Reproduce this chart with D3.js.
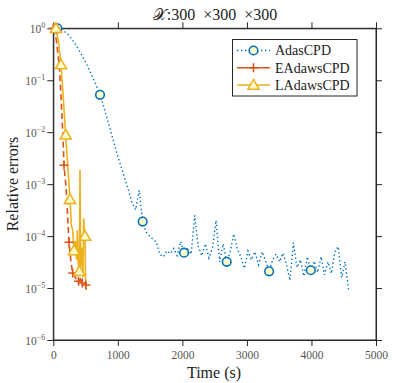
<!DOCTYPE html>
<html><head><meta charset="utf-8">
<script src="https://cdn.jsdelivr.net/npm/d3@7"></script>
<style>body{margin:0;background:#fff}svg{display:block}</style>
</head><body>
<svg id="c" width="415" height="383"></svg>
<script>
const title = "\u{1D4B3}:300 \u00A0\u00D7300 \u00A0\u00D7300";
const xLabel = "Time (s)";
const yLabel = "Relative errors";
const xTicks = [0,1000,2000,3000,4000,5000];
const yTickExp = [0,-1,-2,-3,-4,-5,-6];
const seriesNames = ["AdasCPD","EAdawsCPD","LAdawsCPD"];

const adasTime = [62,117,172,228,283,338,393,448,503,559,614,669,724,
 779,834,889,944,999,1054,1110,1165,1220,1275,1330,1385,
 1438,1492,1545,1599,1652,1706,1759,1812,1866,1919,1973,2026,
 2081,2136,2191,2246,2301,2357,2412,2467,2522,2577,2632,2687,
 2742,2796,2851,2906,2961,3016,3070,3125,3180,3235,3289,3344,
 3398,3452,3506,3559,3613,3667,3721,3775,3829,3883,3936,3990,
 4043,4096,4149,4202,4256,4309,4362,4415,4468,4521,4574];
const adasErr = [1.0,0.955,0.871,0.759,0.631,0.501,0.389,0.295,0.219,0.158,0.112,0.0776,0.0525,
 0.0316,0.0182,0.0105,0.00603,0.00347,0.00209,0.00126,7.6e-4,4.4e-4,3.2e-4,7.6e-4,1.9e-4,
 1.2e-4,1.0e-4,8.7e-5,7.6e-5,4.4e-5,4.0e-5,5.2e-5,4.6e-5,5.8e-5,4.2e-5,7.9e-5,4.8e-5,
 5.6e-5,4.5e-5,2.5e-4,6.3e-5,4.2e-5,7.1e-5,3.8e-5,6.0e-5,2.0e-4,3.2e-5,7.1e-5,3.2e-5,
 5.0e-5,1.1e-4,5.6e-5,4.0e-5,2.4e-5,5.2e-5,3.5e-5,5.0e-5,2.8e-5,5.0e-5,3.3e-5,2.1e-5,
 3.5e-5,4.5e-5,3.2e-5,4.7e-5,2.8e-5,1.4e-5,7.4e-5,2.5e-5,3.5e-5,1.7e-5,4.0e-5,2.2e-5,
 3.3e-5,2.0e-5,4.0e-5,1.8e-5,3.2e-5,1.9e-5,5.0e-5,6.3e-5,1.6e-5,3.2e-5,9.3e-6];
const adasMarks = [0,12,24,36,48,60,72];

const eTime = [0,45,95,125,150,166,200,243,270,300,340,390,420,450,480,505];
const eErr  = [1.0,0.62,0.18,0.036,8.3e-3,2.3e-3,8e-4,7.6e-5,3.5e-5,1.95e-5,1.6e-5,1.35e-5,1.5e-5,1.25e-5,1.3e-5,1.15e-5];
const eMarks = [0,5,7,9,11,13,15];

const lTime = [42,80,120,155,192,225,259,280,300,321,340,360,372,385,403,414,425,445,460,470,492,500,507];
const lErr  = [1.0,0.55,0.2,0.045,8.9e-3,2.2e-3,5.1e-4,1.6e-4,1.3e-4,5.3e-5,8e-5,3.5e-5,1.3e-4,3.0e-5,2.1e-5,1.9e-3,2.5e-5,6e-5,1.6e-5,2.2e-4,1.0e-4,1.5e-5,9.3e-6];
const lMarks = [0,2,4,6,9,14,20];

const colors = ["#0072BD","#D95319","#EDB120"];
const markFill = "#ffffcc";
const axCol = "#262626";
const font = "'Liberation Serif','Times New Roman',serif";

const svg = d3.select("#c");
const L=53.3, R=376, T=28.3, B=340;
const x = d3.scaleLinear().domain([0,5000]).range([L,R]);
const y = d3.scaleLog().domain([1e-6,1]).range([B,T]);

svg.append("rect").attr("x",L).attr("y",T).attr("width",R-L).attr("height",B-T)
  .attr("fill","#fff").attr("stroke",axCol).attr("stroke-width",1);

const tl = 6;
const gB = svg.append("g").attr("transform",`translate(0,${B})`)
  .call(d3.axisBottom(x).tickValues(xTicks).tickSize(tl).tickSizeOuter(0).tickFormat(d3.format("d")));
const gT = svg.append("g").attr("transform",`translate(0,${T})`)
  .call(d3.axisTop(x).tickValues(xTicks).tickSize(tl).tickSizeOuter(0).tickFormat(""));
const yVals = yTickExp.map(e=>Math.pow(10,e));
const gL = svg.append("g").attr("transform",`translate(${L},0)`)
  .call(d3.axisLeft(y).tickValues(yVals).tickSize(tl).tickSizeOuter(0).tickFormat(""));
const gR = svg.append("g").attr("transform",`translate(${R},0)`)
  .call(d3.axisRight(y).tickValues(yVals).tickSize(tl).tickSizeOuter(0).tickFormat(""));
[gB,gT,gL,gR].forEach(g=>{
  g.select(".domain").attr("stroke",axCol);
  g.selectAll(".tick line").attr("stroke",axCol);
});
gB.selectAll(".tick text").attr("font-family",font).attr("font-size",11.5).attr("fill","#555").attr("dy","0.85em");

const yl = svg.append("g");
yTickExp.forEach((e,i)=>{
  const t = yl.append("text").attr("x",L-8).attr("y",y(yVals[i])+4.5)
    .attr("font-family",font).attr("font-size",11.5).attr("fill","#555").attr("text-anchor","end");
  t.append("tspan").text("10");
  t.append("tspan").attr("dy",-4.5).attr("font-size",8).text(String(e).replace("-","\u2212"));
});

function series(tArr, vArr){ return tArr.map((t,i)=>[t,vArr[i]]); }
const line = d3.line().x(d=>x(d[0])).y(d=>y(d[1]));
const plot = svg.append("g");
const sA = series(adasTime, adasErr), sE = series(eTime,eErr), sL = series(lTime,lErr);

plot.append("path").datum(sA).attr("d",line).attr("fill","none").attr("stroke",colors[0])
  .attr("stroke-width",1.4).attr("stroke-dasharray","1.4,2.6");
plot.append("path").datum(sE).attr("d",line).attr("fill","none").attr("stroke",colors[1])
  .attr("stroke-width",1.6).attr("stroke-dasharray","6,3.5");
plot.append("path").datum(sL).attr("d",line).attr("fill","none").attr("stroke",colors[2])
  .attr("stroke-width",1.6);

const tri = d3.symbol().type(d3.symbolTriangle).size(55);
function circleMark(g,cx,cy){ g.append("circle").attr("cx",cx).attr("cy",cy).attr("r",4.3)
  .attr("fill",markFill).attr("stroke",colors[0]).attr("stroke-width",1.6); }
function plusMark(g,cx,cy){ g.append("path").attr("d",`M${cx-4.5},${cy}H${cx+4.5}M${cx},${cy-4.5}V${cy+4.5}`)
  .attr("stroke",colors[1]).attr("stroke-width",1.5).attr("fill","none"); }
function triMark(g,cx,cy){ g.append("path").attr("d",tri()).attr("transform",`translate(${cx},${cy+1})`)
  .attr("fill",markFill).attr("stroke",colors[2]).attr("stroke-width",1.5); }

adasMarks.forEach(i=>circleMark(plot,x(sA[i][0]),y(sA[i][1])));
eMarks.forEach(i=>plusMark(plot,x(sE[i][0]),y(sE[i][1])));
lMarks.forEach(i=>triMark(plot,x(sL[i][0]),y(sL[i][1])));

const lg = svg.append("g");
lg.append("rect").attr("x",232.5).attr("y",39.5).attr("width",124.5).attr("height",56.5)
  .attr("fill","#fff").attr("stroke",axCol).attr("stroke-width",1);
const ly = [50.5,67.8,85];
const lx1=237, lx2=270, lxm=253.5;
lg.append("line").attr("x1",lx1).attr("x2",lx2).attr("y1",ly[0]).attr("y2",ly[0])
  .attr("stroke",colors[0]).attr("stroke-width",1.4).attr("stroke-dasharray","1.4,2.6");
circleMark(lg,lxm,ly[0]);
lg.append("line").attr("x1",lx1).attr("x2",lx2).attr("y1",ly[1]).attr("y2",ly[1])
  .attr("stroke",colors[1]).attr("stroke-width",1.6);
plusMark(lg,lxm,ly[1]);
lg.append("line").attr("x1",lx1).attr("x2",lx2).attr("y1",ly[2]).attr("y2",ly[2])
  .attr("stroke",colors[2]).attr("stroke-width",1.6);
triMark(lg,lxm,ly[2]);
seriesNames.forEach((n,i)=>lg.append("text").attr("x",275).attr("y",ly[i]+4.8)
  .attr("font-family",font).attr("font-size",14).attr("fill","#222").text(n));

svg.append("text").attr("x",215).attr("y",20).attr("text-anchor","middle")
  .attr("font-family",font).attr("font-size",16).attr("fill","#222").text(title);
svg.append("text").attr("x",214).attr("y",378).attr("text-anchor","middle")
  .attr("font-family",font).attr("font-size",16).attr("fill","#222").text(xLabel);
svg.append("text").attr("transform","translate(18,184) rotate(-90)").attr("text-anchor","middle")
  .attr("font-family",font).attr("font-size",16).attr("fill","#222").text(yLabel);
</script>
</body></html>
